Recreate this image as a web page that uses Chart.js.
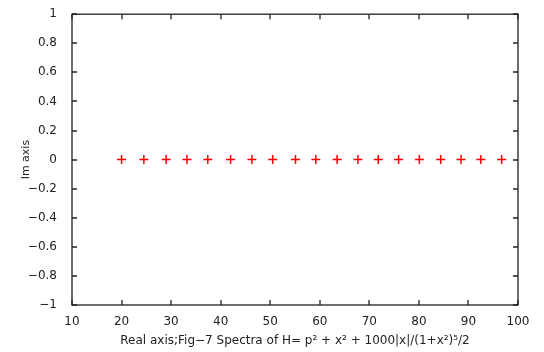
<!DOCTYPE html>
<html>
<head>
<meta charset="utf-8">
<script src="https://cdn.jsdelivr.net/npm/chart.js@4"></script>
<style>
  html, body { margin: 0; padding: 0; background: #fff; }
  #wrap { width: 544px; height: 352px; }
</style>
</head>
<body>
<div id="wrap"><canvas id="myChart"></canvas></div>
<script>
// eigenvalues (all on the real axis)
const realParts = [20, 24.5, 29, 33.2, 37.4, 42, 46.3, 50.5, 55.1, 59.2, 63.5, 67.7, 71.8, 75.9, 80.1, 84.4, 88.5, 92.5, 96.7];
const imagParts = [0, 0, 0, 0, 0, 0, 0, 0, 0, 0, 0, 0, 0, 0, 0, 0, 0, 0, 0];
const xTicks = [10, 20, 30, 40, 50, 60, 70, 80, 90, 100];
const yTicks = [-1, -0.8, -0.6, -0.4, -0.2, 0, 0.2, 0.4, 0.6, 0.8, 1];

const fontFam = "'DejaVu Sans', sans-serif";
const minus = (v) => String(v).replace("-", "\u2212");

// matlab style box with inward ticks on all four sides
const boxTicks = {
  id: "boxTicks",
  afterDraw(chart) {
    const { ctx, chartArea: a, scales } = chart;
    ctx.save();
    ctx.strokeStyle = "#222";
    ctx.lineWidth = 1.3;
    ctx.strokeRect(a.left, a.top, a.right - a.left, a.bottom - a.top);
    ctx.beginPath();
    xTicks.forEach((t) => {
      const x = Math.round(scales.x.getPixelForValue(t));
      ctx.moveTo(x, a.bottom); ctx.lineTo(x, a.bottom - 5);
      ctx.moveTo(x, a.top); ctx.lineTo(x, a.top + 5);
    });
    yTicks.forEach((t) => {
      const y = Math.round(scales.y.getPixelForValue(t));
      ctx.moveTo(a.left, y); ctx.lineTo(a.left + 5, y);
      ctx.moveTo(a.right, y); ctx.lineTo(a.right - 5, y);
    });
    ctx.stroke();
    ctx.restore();
  },
};

const ctx = document.getElementById("myChart").getContext("2d");
const myChart = new Chart(ctx, {
  type: "scatter",
  data: {
    datasets: [
      {
        label: "spectra",
        data: realParts.map((r, i) => ({ x: r, y: imagParts[i] })),
        pointStyle: "cross",
        pointRadius: 4.5,
        pointBorderWidth: 1.5,
        borderColor: "#ff0000",
        backgroundColor: "#ff0000",
        showLine: false,
      },
    ],
  },
  plugins: [boxTicks],
  options: {
    responsive: true,
    maintainAspectRatio: false,
    animation: false,
    layout: { padding: { top: 13, right: 26, left: 0, bottom: 0 } },
    plugins: { legend: { display: false }, tooltip: { enabled: false } },
    scales: {
      x: {
        type: "linear",
        min: 10,
        max: 100,
        afterBuildTicks: (s) => { s.ticks = xTicks.map((v) => ({ value: v })); },
        afterFit: (s) => { s.height = 47; },
        grid: { display: false },
        border: { display: false },
        ticks: { color: "#222", font: { family: fontFam, size: 12 }, padding: 2, maxRotation: 0 },
        title: {
          display: true,
          text: "Real axis;Fig\u22127 Spectra of H= p\u00b2 + x\u00b2 + 1000|x|/(1+x\u00b2)\u2075/2",
          color: "#222",
          font: { family: fontFam, size: 12 },
          padding: { top: 1 },
        },
      },
      y: {
        type: "linear",
        min: -1,
        max: 1,
        afterBuildTicks: (s) => { s.ticks = yTicks.map((v) => ({ value: v })); },
        afterFit: (s) => { s.width = 72; },
        grid: { display: false },
        border: { display: false },
        ticks: {
          color: "#222",
          font: { family: fontFam, size: 12 },
          padding: 7,
          callback: (v) => minus(v),
        },
        title: {
          display: true,
          text: "Im axis",
          color: "#222",
          font: { family: fontFam, size: 11 },
          padding: { top: 20, bottom: 2 },
        },
      },
    },
  },
});
</script>
</body>
</html>
